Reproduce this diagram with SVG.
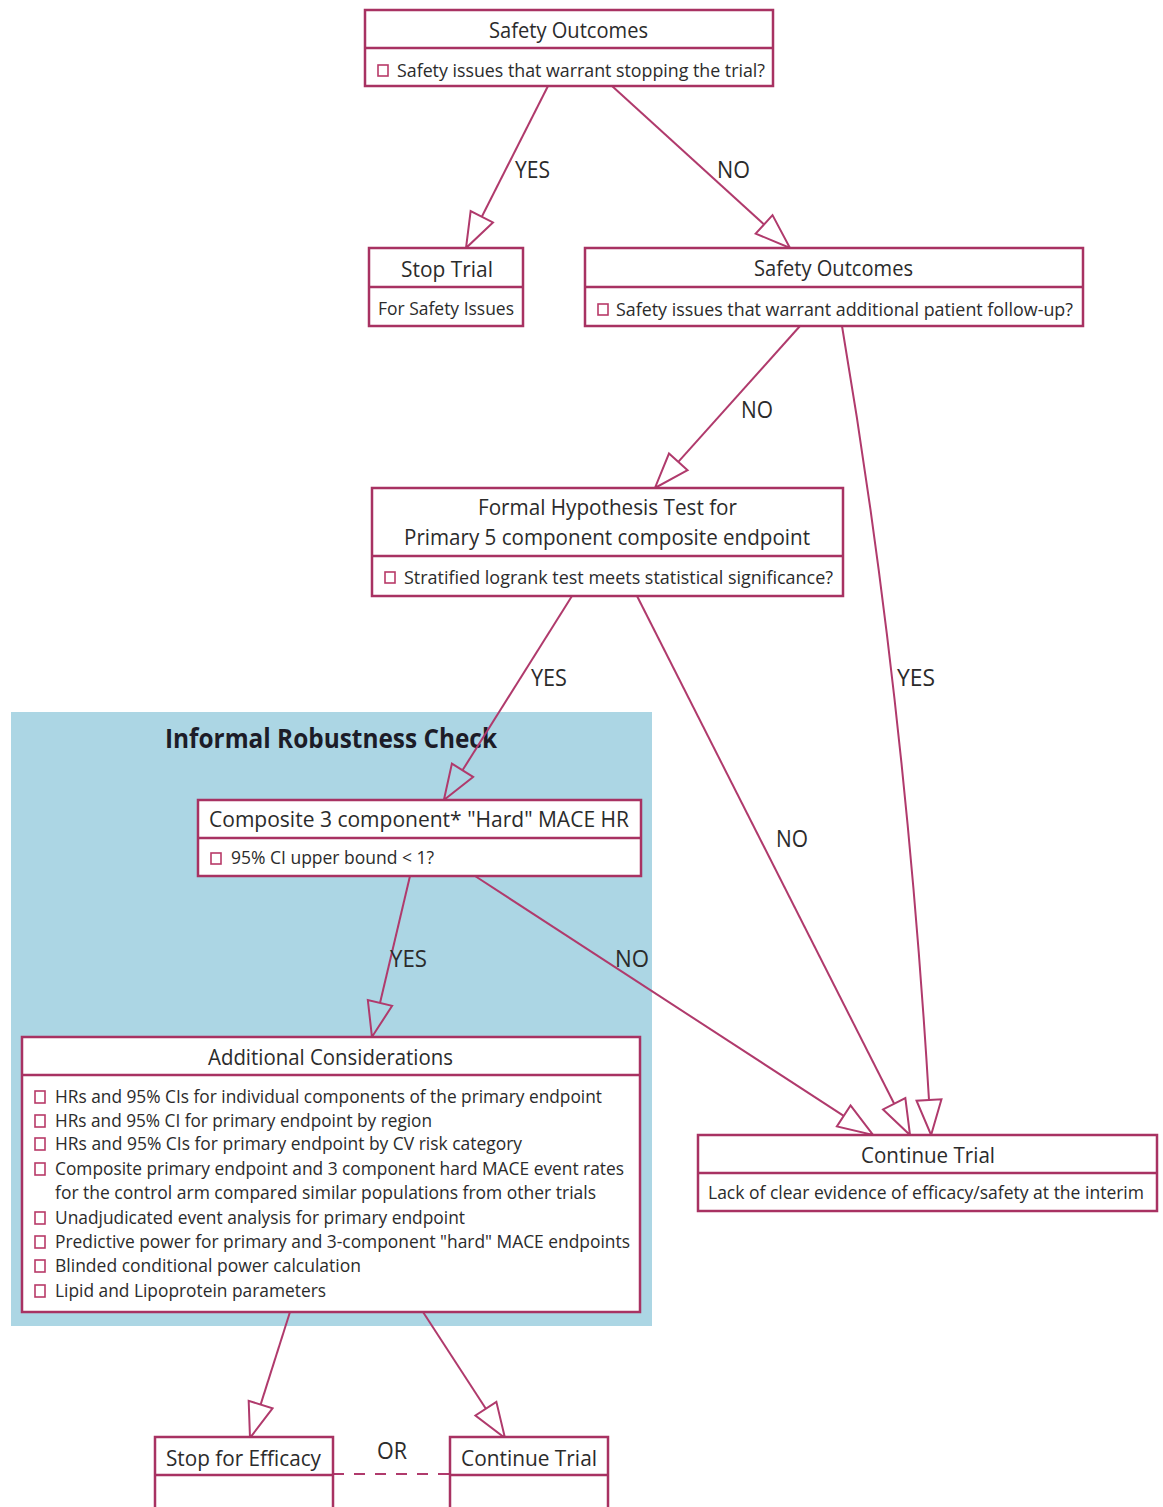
<svg xmlns="http://www.w3.org/2000/svg" width="1163" height="1507" viewBox="0 0 1163 1507">
<style>
.box{fill:#ffffff;stroke:#a83262;stroke-width:2.5}
.div{stroke:#a83262;stroke-width:2.5}
.cb{fill:#ffffff;stroke:#b83a68;stroke-width:1.6}
.t{font-family:"Open Sans","Liberation Sans",sans-serif;font-size:22px;fill:#2b2b2b}
.i{font-family:"Open Sans","Liberation Sans",sans-serif;font-size:19px;fill:#2b2b2b}
.lbl{font-family:"Open Sans","Liberation Sans",sans-serif;font-size:23px;fill:#2b2b2b}
.conn{fill:none;stroke:#b03a6c;stroke-width:2}
.hdr{font-family:"Open Sans","Liberation Sans",sans-serif;font-size:26px;font-weight:bold;fill:#1c1c28}
</style>
<defs>
<marker id="arr" markerUnits="userSpaceOnUse" viewBox="0 0 37 27" markerWidth="37" markerHeight="27" refX="0.5" refY="13.5" orient="auto" overflow="visible">
<path d="M0.5,1 L35.5,13.5 L0.5,26 Z" fill="none" stroke="#b03a6c" stroke-width="2"/>
</marker>
</defs>
<rect x="0" y="0" width="1163" height="1507" fill="#ffffff"/>
<g id="robustness-panel">
<rect x="11" y="712" width="641" height="614" fill="#acd6e4"/>
<text class="hdr" x="165" y="748" textLength="332" lengthAdjust="spacingAndGlyphs">Informal Robustness Check</text>
</g>
<g id="connectors">
<path class="conn" d="M548,86 L481.8,216.8" marker-end="url(#arr)"/>
<path class="conn" d="M612,86 L764.1,224.4" marker-end="url(#arr)"/>
<path class="conn" d="M800,326 L678.3,461.9" marker-end="url(#arr)"/>
<path class="conn" d="M842,326 Q904.6,694.5 929,1100" marker-end="url(#arr)"/>
<path class="conn" d="M637,596 L894.2,1103.8" marker-end="url(#arr)"/>
<path class="conn" d="M572,596 L462.5,770.3" marker-end="url(#arr)"/>
<path class="conn" d="M410,876 L380,1002.9" marker-end="url(#arr)"/>
<path class="conn" d="M475,876 L843.7,1115.9" marker-end="url(#arr)"/>
<path class="conn" d="M290,1312 L260.6,1404.6" marker-end="url(#arr)"/>
<path class="conn" d="M423,1312 L485.9,1408.7" marker-end="url(#arr)"/>
<line x1="333" y1="1474" x2="450" y2="1474" stroke="#b03a6c" stroke-width="2" stroke-dasharray="11,10"/>
<text class="lbl" x="515" y="178" textLength="35" lengthAdjust="spacingAndGlyphs">YES</text>
<text class="lbl" x="717" y="178" textLength="33" lengthAdjust="spacingAndGlyphs">NO</text>
<text class="lbl" x="741" y="418" textLength="32" lengthAdjust="spacingAndGlyphs">NO</text>
<text class="lbl" x="531" y="686" textLength="36" lengthAdjust="spacingAndGlyphs">YES</text>
<text class="lbl" x="897" y="686" textLength="38" lengthAdjust="spacingAndGlyphs">YES</text>
<text class="lbl" x="776" y="847" textLength="32" lengthAdjust="spacingAndGlyphs">NO</text>
<text class="lbl" x="390" y="967" textLength="37" lengthAdjust="spacingAndGlyphs">YES</text>
<text class="lbl" x="615" y="967" textLength="34" lengthAdjust="spacingAndGlyphs">NO</text>
<text class="lbl" x="377" y="1459" textLength="30" lengthAdjust="spacingAndGlyphs">OR</text>
</g>
<g id="safety-outcomes-1">
<rect class="box" x="365" y="10" width="408" height="76"/>
<line class="div" x1="365" y1="48" x2="773" y2="48"/>
<text class="t" x="489" y="38" textLength="159" lengthAdjust="spacingAndGlyphs">Safety Outcomes</text>
<rect class="cb" x="378" y="65" width="10" height="11"/>
<text class="i" x="397" y="77" textLength="368" lengthAdjust="spacingAndGlyphs">Safety issues that warrant stopping the trial?</text>
</g>
<g id="stop-trial">
<rect class="box" x="369" y="248" width="154" height="78"/>
<line class="div" x1="369" y1="287" x2="523" y2="287"/>
<text class="t" x="401" y="277" textLength="92" lengthAdjust="spacingAndGlyphs">Stop Trial</text>
<text class="i" x="378" y="315" textLength="136" lengthAdjust="spacingAndGlyphs">For Safety Issues</text>
</g>
<g id="safety-outcomes-2">
<rect class="box" x="585" y="248" width="498" height="78"/>
<line class="div" x1="585" y1="287" x2="1083" y2="287"/>
<text class="t" x="754" y="276" textLength="159" lengthAdjust="spacingAndGlyphs">Safety Outcomes</text>
<rect class="cb" x="598" y="304" width="10" height="11"/>
<text class="i" x="616" y="316" textLength="457" lengthAdjust="spacingAndGlyphs">Safety issues that warrant additional patient follow-up?</text>
</g>
<g id="formal-hypothesis">
<rect class="box" x="372" y="488" width="471" height="108"/>
<line class="div" x1="372" y1="556" x2="843" y2="556"/>
<text class="t" x="478" y="515" textLength="259" lengthAdjust="spacingAndGlyphs">Formal Hypothesis Test for</text>
<text class="t" x="404" y="545" textLength="406" lengthAdjust="spacingAndGlyphs">Primary 5 component composite endpoint</text>
<rect class="cb" x="385" y="572" width="10" height="11"/>
<text class="i" x="404" y="584" textLength="429" lengthAdjust="spacingAndGlyphs">Stratified logrank test meets statistical significance?</text>
</g>
<g id="composite-mace">
<rect class="box" x="198" y="800" width="443" height="76"/>
<line class="div" x1="198" y1="838" x2="641" y2="838"/>
<text class="t" x="209" y="827" textLength="420" lengthAdjust="spacingAndGlyphs">Composite 3 component* "Hard" MACE HR</text>
<rect class="cb" x="211" y="853" width="10" height="11"/>
<text class="i" x="231" y="864" textLength="203" lengthAdjust="spacingAndGlyphs">95% CI upper bound &lt; 1?</text>
</g>
<g id="additional-considerations">
<rect class="box" x="22" y="1037" width="618" height="275"/>
<line class="div" x1="22" y1="1075" x2="640" y2="1075"/>
<text class="t" x="208" y="1065" textLength="245" lengthAdjust="spacingAndGlyphs">Additional Considerations</text>
<rect class="cb" x="35" y="1091" width="10" height="12"/>
<text class="i" x="55" y="1103" textLength="547" lengthAdjust="spacingAndGlyphs">HRs and 95% CIs for individual components of the primary endpoint</text>
<rect class="cb" x="35" y="1115" width="10" height="12"/>
<text class="i" x="55" y="1127" textLength="377" lengthAdjust="spacingAndGlyphs">HRs and 95% CI for primary endpoint by region</text>
<rect class="cb" x="35" y="1138" width="10" height="12"/>
<text class="i" x="55" y="1150" textLength="467" lengthAdjust="spacingAndGlyphs">HRs and 95% CIs for primary endpoint by CV risk category</text>
<rect class="cb" x="35" y="1163" width="10" height="12"/>
<text class="i" x="55" y="1175" textLength="569" lengthAdjust="spacingAndGlyphs">Composite primary endpoint and 3 component hard MACE event rates</text>
<text class="i" x="55" y="1199" textLength="541" lengthAdjust="spacingAndGlyphs">for the control arm compared similar populations from other trials</text>
<rect class="cb" x="35" y="1212" width="10" height="12"/>
<text class="i" x="55" y="1224" textLength="410" lengthAdjust="spacingAndGlyphs">Unadjudicated event analysis for primary endpoint</text>
<rect class="cb" x="35" y="1236" width="10" height="12"/>
<text class="i" x="55" y="1248" textLength="575" lengthAdjust="spacingAndGlyphs">Predictive power for primary and 3-component "hard" MACE endpoints</text>
<rect class="cb" x="35" y="1260" width="10" height="12"/>
<text class="i" x="55" y="1272" textLength="306" lengthAdjust="spacingAndGlyphs">Blinded conditional power calculation</text>
<rect class="cb" x="35" y="1285" width="10" height="12"/>
<text class="i" x="55" y="1297" textLength="271" lengthAdjust="spacingAndGlyphs">Lipid and Lipoprotein parameters</text>
</g>
<g id="continue-trial-interim">
<rect class="box" x="698" y="1135" width="459" height="76"/>
<line class="div" x1="698" y1="1173" x2="1157" y2="1173"/>
<text class="t" x="861" y="1163" textLength="134" lengthAdjust="spacingAndGlyphs">Continue Trial</text>
<text class="i" x="708" y="1199" font-size="18" textLength="436" lengthAdjust="spacingAndGlyphs">Lack of clear evidence of efficacy/safety at the interim</text>
</g>
<g id="stop-for-efficacy">
<rect class="box" x="155" y="1437" width="178" height="80"/>
<line class="div" x1="155" y1="1475" x2="333" y2="1475"/>
<text class="t" x="166" y="1466" textLength="155" lengthAdjust="spacingAndGlyphs">Stop for Efficacy</text>
</g>
<g id="continue-trial-final">
<rect class="box" x="450" y="1437" width="158" height="80"/>
<line class="div" x1="450" y1="1475" x2="608" y2="1475"/>
<text class="t" x="461" y="1466" textLength="136" lengthAdjust="spacingAndGlyphs">Continue Trial</text>
</g>
</svg>
